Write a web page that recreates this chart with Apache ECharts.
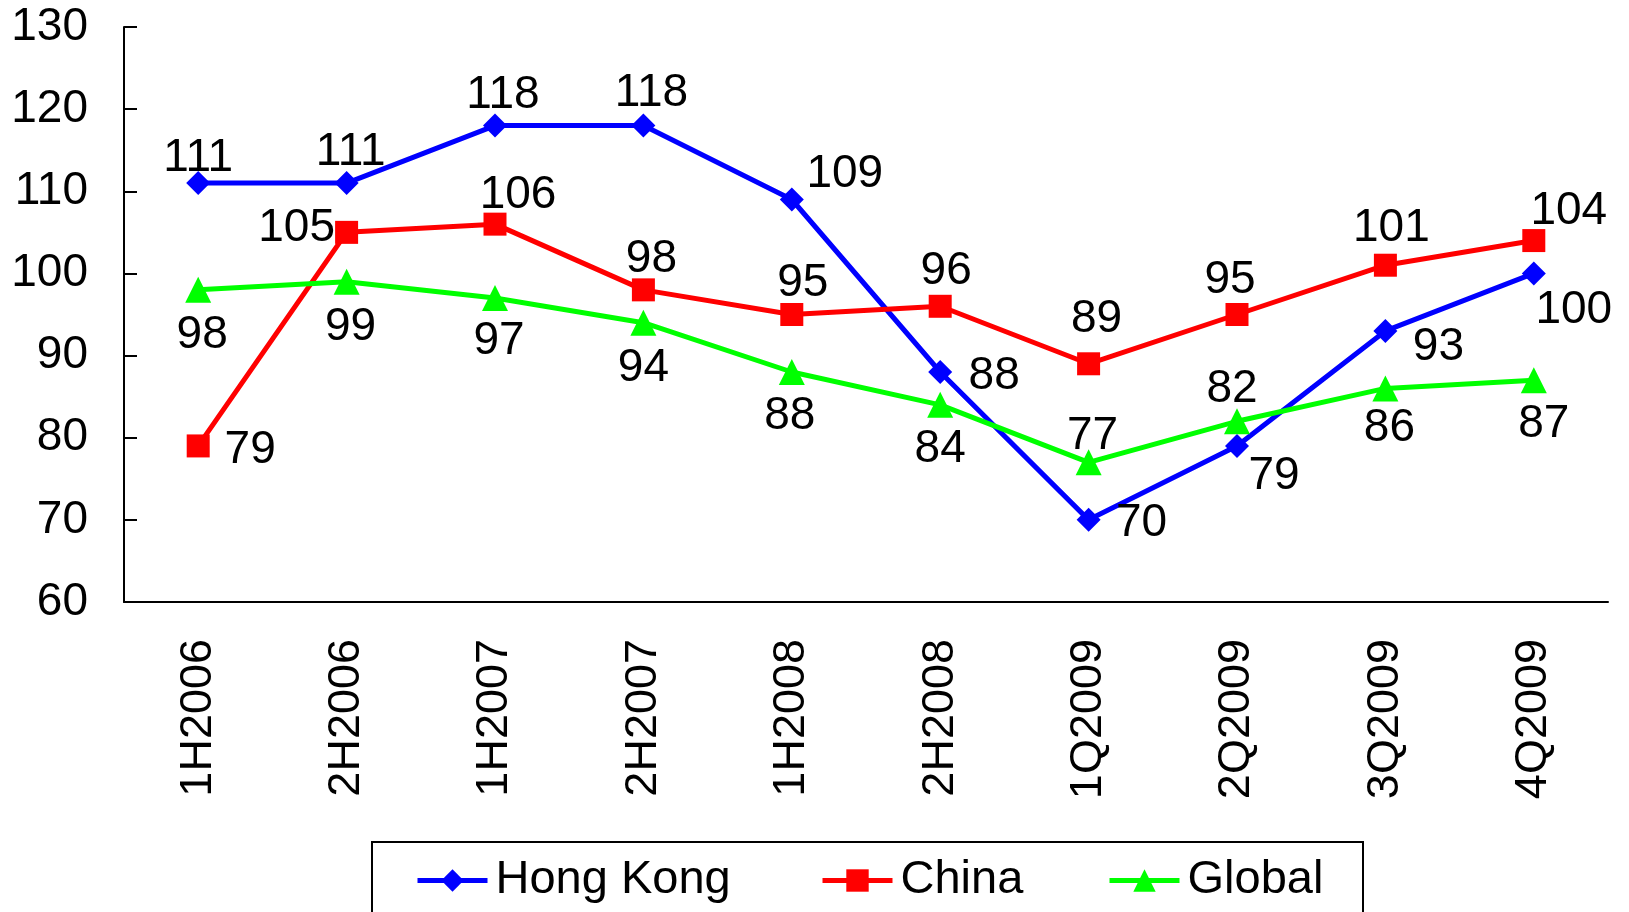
<!DOCTYPE html>
<html>
<head>
<meta charset="utf-8">
<script src="https://cdn.jsdelivr.net/npm/echarts@6/dist/echarts.min.js"></script>
<style>
  html, body { margin: 0; padding: 0; background: #fff; }
  #chart { width: 1629px; height: 912px; }
</style>
</head>
<body>
<div id="chart"></div>
<script>
// Half-year / quarter periods
const categories = ['1H2006', '2H2006', '1H2007', '2H2007', '1H2008', '2H2008', '1Q2009', '2Q2009', '3Q2009', '4Q2009'];

// Index values per region
const hongKong = [111, 111, 118, 118, 109, 88, 70, 79, 93, 100];
const china    = [79, 105, 106, 98, 95, 96, 89, 95, 101, 104];
const global   = [98, 99, 97, 94, 88, 84, 77, 82, 86, 87];

// Value-axis range
const yMin = 60, yMax = 130, yStep = 10;

// Where each value label sits relative to its marker centre [dx, dy]
const hkLabelOffsets = [[0,-25],[4,-31],[8,-30],[8,-32],[53,-25],[54,4],[53,3],[37,30],[53,16],[40,37]];
const cnLabelOffsets = [[52,4],[-50,-4],[23,-29],[8,-31],[11,-31],[6,-35],[8,-44],[-7,-34],[6,-37],[35,-29]];
const glLabelOffsets = [[4,45],[4,46],[4,43],[0,46],[-2,44],[0,44],[4,-26],[-5,-32],[4,40],[10,44]];

const FONT = '"Liberation Sans", Arial, sans-serif';
const FS = 46;

function withLabels(values, offsets) {
  return values.map((v, i) => ({
    value: v,
    label: { offset: offsets[i] }
  }));
}

function lineSeries(name, values, offsets, color, symbol, size) {
  return {
    name: name,
    type: 'line',
    data: withLabels(values, offsets),
    symbol: symbol,
    symbolSize: size,
    lineStyle: { color: color, width: 5 },
    itemStyle: { color: color },
    label: {
      show: true,
      position: 'inside',
      align: 'center',
      verticalAlign: 'middle',
      color: '#000',
      fontFamily: FONT,
      fontSize: FS
    },
    emphasis: { disabled: true },
    animation: false,
    z: 3
  };
}

function legendFor(name, left) {
  return {
    data: [name],
    left: left,
    top: 857,
    padding: 0,
    itemWidth: 70,
    itemHeight: 28,
    lineStyle: { width: 5 },
    textStyle: { fontFamily: FONT, fontSize: 47, color: '#000', padding: [0, 0, 0, 3] },
    selectedMode: false
  };
}

const chart = echarts.init(document.getElementById('chart'), null, { renderer: 'canvas' });
chart.setOption({
  backgroundColor: '#fff',
  animation: false,
  grid: { left: 124, right: 21, top: 27, bottom: 310, containLabel: false },
  xAxis: {
    type: 'category',
    data: categories,
    boundaryGap: true,
    axisLine: { lineStyle: { color: '#000', width: 2 } },
    axisTick: { inside: true, length: 14, lineStyle: { color: '#000', width: 2 } },
    axisLabel: { rotate: 90, margin: 37, color: '#000', fontFamily: FONT, fontSize: 45 }
  },
  yAxis: {
    type: 'value',
    min: yMin, max: yMax, interval: yStep,
    axisLine: { show: true, lineStyle: { color: '#000', width: 2 } },
    axisTick: { show: true, inside: true, length: 13, lineStyle: { color: '#000', width: 2 } },
    splitLine: { show: false },
    axisLabel: { margin: 36, color: '#000', fontFamily: FONT, fontSize: FS }
  },
  legend: [
    legendFor('Hong Kong', 415),
    legendFor('China', 820),
    legendFor('Global', 1107)
  ],
  graphic: [{
    type: 'rect',
    shape: { x: 372, y: 842, width: 991, height: 120 },
    style: { fill: 'none', stroke: '#000', lineWidth: 2 },
    silent: true
  }],
  series: [
    lineSeries('Hong Kong', hongKong, hkLabelOffsets, '#0000FF', 'diamond', 24),
    lineSeries('China', china, cnLabelOffsets, '#FF0000', 'rect', 23),
    lineSeries('Global', global, glLabelOffsets, '#00FF00', 'triangle', 26)
  ]
});
</script>
</body>
</html>
